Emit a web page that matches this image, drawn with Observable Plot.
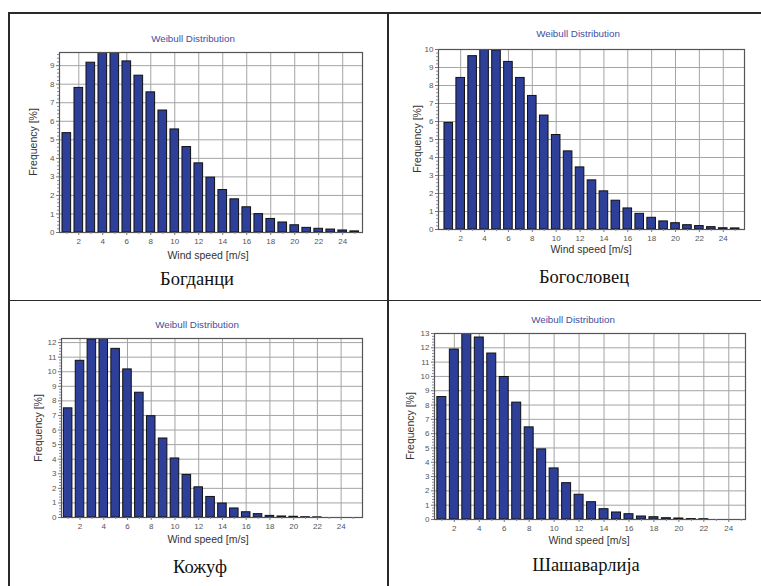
<!DOCTYPE html>
<html><head><meta charset="utf-8">
<script src="https://cdn.jsdelivr.net/npm/d3@7"></script>
<script src="https://cdn.jsdelivr.net/npm/@observablehq/plot@0.6"></script>
<style>
html,body{margin:0;padding:0;background:#fff}
body{width:761px;height:586px;position:relative;overflow:hidden;font-family:"Liberation Sans",Arial,sans-serif}
.ln{position:absolute;background:#2a2a2a}
.abs{position:absolute;white-space:nowrap;transform:translate(-50%,-50%)}
.title{font-size:9.8px;color:#3f4f9f}
.axl{font-size:10.5px;color:#333}
.ylab{transform:translate(-50%,-50%) rotate(-90deg)}
.cap{font-family:"Liberation Serif","Times New Roman",serif;font-size:18.5px;color:#111}
.plot{position:absolute}
</style>
</head><body>
<script>
// ---- data ----
const windSpeed = [1,2,3,4,5,6,7,8,9,10,11,12,13,14,15,16,17,18,19,20,21,22,23,24,25];
const bogdanci     = [5.36,7.80,9.16,9.78,9.75,9.23,8.46,7.56,6.58,5.56,4.61,3.73,2.96,2.29,1.79,1.36,0.99,0.73,0.54,0.39,0.25,0.20,0.16,0.11,0.06];
const bogoslovec   = [5.92,8.42,9.63,10.0,9.94,9.31,8.42,7.42,6.33,5.25,4.34,3.45,2.73,2.12,1.60,1.17,0.87,0.65,0.45,0.35,0.24,0.19,0.13,0.07,0.06];
const kozhuf       = [7.49,10.75,12.19,12.35,11.57,10.16,8.56,6.95,5.42,4.05,2.92,2.07,1.41,0.96,0.62,0.36,0.23,0.11,0.07,0.05,0.02,0.01,0,0,0];
const shashavarlija= [8.56,11.88,13.0,12.72,11.60,9.96,8.17,6.44,4.90,3.57,2.54,1.73,1.21,0.72,0.49,0.37,0.21,0.16,0.09,0.07,0.03,0.02,0,0,0];
const stationNames = ["Богданци","Богословец","Кожуф","Шашаварлија"];
const chartTitle = "Weibull Distribution";
const xLabel = "Wind speed [m/s]";
const yLabel = "Frequency [%]";
const xTickLabels = [2,4,6,8,10,12,14,16,18,20,22,24];
const yMax = [9.71, 10, 12.28, 13];

// ---- layout (pixel frames of each panel) ----
const series = [bogdanci, bogoslovec, kozhuf, shashavarlija];
const panels = [
  {L:59, R:362, T:52, B:232, xd:[0.39,25.65], title:[193,38], ylab:[33,142], xlab:[208,255], cap:[197,279]},
  {L:438,R:744, T:49, B:229, xd:[0.14,25.78], title:[578,33], ylab:[417,139], xlab:[591,249], cap:[584,277]},
  {L:61, R:362, T:338,B:517, xd:[0.44,25.8],  title:[197,324],ylab:[38,428],  xlab:[208,539], cap:[200,567]},
  {L:434,R:745, T:333,B:519, xd:[0.41,25.34], title:[573,319],ylab:[410,426], xlab:[589,540], cap:[586,565]}
];

// table lines
function line(x,y,w,h){const d=document.createElement("div");d.className="ln";Object.assign(d.style,{left:x+"px",top:y+"px",width:w+"px",height:h+"px"});document.body.appendChild(d);}
line(8,12,753,1.5); line(8,12,1.5,574); line(387,12,1.5,574); line(8,299.5,753,1.5);

function text(cls, str, pos){const d=document.createElement("div");d.className="abs "+cls;d.textContent=str;d.style.left=pos[0]+"px";d.style.top=pos[1]+"px";document.body.appendChild(d);}

const mL=30,mT=6,mR=6,mB=22;
panels.forEach((p,i)=>{
  const vals = series[i];
  const data = windSpeed.map((w,j)=>({ws:w, f:vals[j]}));
  const ymax = yMax[i];
  const yTicks = d3.range(0, Math.floor(ymax)+1);
  const yMinor = d3.range(0, ymax, 0.2).filter(v=>Math.abs(v-Math.round(v))>1e-6);
  const xMinor = d3.range(1, 26, 1).filter(v=>v%2===1);
  const chart = Plot.plot({
    width: (p.R-p.L)+mL+mR, height:(p.B-p.T)+mT+mB,
    marginLeft:mL, marginRight:mR, marginTop:mT, marginBottom:mB,
    style:{background:"transparent", fontFamily:"Liberation Sans, Arial, sans-serif", fontSize:"8px", color:"#555"},
    x:{domain:p.xd, axis:null},
    y:{domain:[0,ymax], axis:null},
    marks:[
      Plot.gridX(xTickLabels,{stroke:"#a4a4a4", strokeOpacity:1, strokeWidth:1}),
      Plot.gridY(yTicks,{stroke:"#a4a4a4", strokeOpacity:1, strokeWidth:1}),
      Plot.rectY(data,{x1:d=>d.ws-0.36, x2:d=>d.ws+0.36, y:"f", fill:"#2d3f98", stroke:"#111", strokeWidth:1, clip:true}),
      Plot.frame({stroke:"#555", strokeWidth:1.2}),
      Plot.axisY(yTicks,{tickSize:3, tickPadding:2, label:null, stroke:"#777", fill:"#555"}),
      Plot.axisY(yMinor,{tickSize:2, tickFormat:()=>"", label:null, stroke:"#8a8aa8"}),
      Plot.axisX(xTickLabels,{tickSize:3, tickPadding:3, label:null, stroke:"#777", fill:"#555"}),
      Plot.axisX(xMinor,{tickSize:2, tickFormat:()=>"", label:null, stroke:"#8a8aa8"})
    ]
  });
  chart.classList.add("plot");
  chart.style.left=(p.L-mL)+"px"; chart.style.top=(p.T-mT)+"px";
  document.body.appendChild(chart);
  text("title", chartTitle, p.title);
  text("axl ylab", yLabel, p.ylab);
  text("axl", xLabel, p.xlab);
  text("cap", stationNames[i], p.cap);
});
</script>
</body></html>
